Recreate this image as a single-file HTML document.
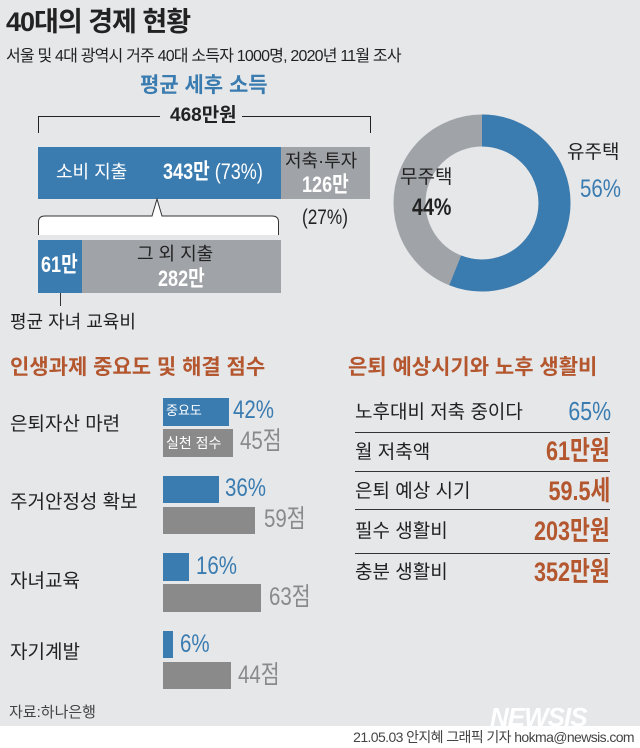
<!DOCTYPE html>
<html><head><meta charset="utf-8"><style>
body{margin:0}
#c{position:relative;width:640px;height:748px;background:#e5e7e9;overflow:hidden;font-family:"Liberation Sans","Noto Sans CJK KR",sans-serif;color:#222}
.a{position:absolute;white-space:nowrap;line-height:1}
.b{position:absolute}
.n{display:inline-block;transform:scaleX(.82);transform-origin:left center}
.o{color:#b4572f;font-weight:bold}
.bl{color:#3a7bb0}
</style></head><body><div id="c">
<div class="a" style="left:6px;top:9px;font-size:27px;font-weight:bold;letter-spacing:-1px">40대의 경제 현황</div>
<div class="a" style="left:6px;top:49px;font-size:16px;letter-spacing:-0.8px">서울 및 4대 광역시 거주 40대 소득자 1000명, 2020년 11월 조사</div>
<div class="a bl" style="left:140px;top:75px;font-size:21px;font-weight:bold">평균 세후 소득</div>

<svg class="b" style="left:0;top:0" width="640" height="360">
<path d="M38.5 133 V116.5 H160 M242 116.5 H370.5 V133" fill="none" stroke="#222" stroke-width="1"/>
<rect x="38" y="147" width="243" height="52" fill="#3a7bb0"/>
<rect x="281" y="147" width="89" height="52" fill="#a0a4a8"/>
<path d="M38.5 235 V222 Q38.5 216 45 216 H152 L157 199 L162 216 H272 Q278.5 216 278.5 222 V235" fill="#fff" stroke="#333" stroke-width="1"/>
<rect x="38" y="240" width="44" height="53" fill="#3a7bb0"/>
<rect x="82" y="240" width="199" height="53" fill="#a0a4a8"/>
<line x1="60.5" y1="293" x2="60.5" y2="306" stroke="#333"/>
<circle cx="482" cy="203" r="72.5" fill="none" stroke="#a0a4a8" stroke-width="32"/>
<circle cx="482" cy="203" r="72.5" fill="none" stroke="#3a7bb0" stroke-width="32" stroke-dasharray="255.1 500" transform="rotate(-90 482 203)"/>
</svg>
<div class="a" style="left:170px;top:106px;font-size:19px;font-weight:bold">468만원</div>
<div class="a" style="left:56px;top:163px;font-size:18px;color:#fff">소비 지출</div>
<div class="a" style="left:163px;top:161px;font-size:22px;color:#fff"><span class="n"><b>343만</b> (73%)</span></div>
<div class="a" style="left:285px;top:152px;font-size:18px">저축·투자</div>
<div class="a" style="left:302px;top:174px;font-size:22px;color:#fff;font-weight:bold"><span class="n">126만</span></div>
<div class="a" style="left:302px;top:207px;font-size:21px"><span class="n">(27%)</span></div>
<div class="a" style="left:41px;top:254px;font-size:22px;color:#fff;font-weight:bold"><span class="n">61만</span></div>
<div class="a" style="left:137px;top:245px;font-size:18px">그 외 지출</div>
<div class="a" style="left:158px;top:268px;font-size:22px;color:#fff;font-weight:bold"><span class="n">282만</span></div>
<div class="a" style="left:10px;top:313px;font-size:18px">평균 자녀 교육비</div>
<div class="a" style="left:567px;top:143px;font-size:19px">유주택</div>
<div class="a bl" style="left:580px;top:177px;font-size:25px"><span class="n">56%</span></div>
<div class="a" style="left:400px;top:168px;font-size:19px">무주택</div>
<div class="a" style="left:412px;top:196px;font-size:24px;font-weight:bold"><span class="n">44%</span></div>

<div class="a o" style="left:10px;top:357px;font-size:21px">인생과제 중요도 및 해결 점수</div>
<div class="a o" style="left:348px;top:357px;font-size:21px">은퇴 예상시기와 노후 생활비</div>

<div class="a" style="left:10px;top:415px;font-size:19px">은퇴자산 마련</div>
<div class="b" style="left:163px;top:398px;width:66px;height:28px;background:#3a7bb0;color:#fff;font-size:13px;line-height:26px;padding-left:3px;box-sizing:border-box">중요도</div>
<div class="b" style="left:163px;top:429px;width:70px;height:28px;background:#8a8a8a;color:#fff;font-size:14px;line-height:28px;padding-left:3px;box-sizing:border-box">실천 점수</div>
<div class="a bl" style="left:233px;top:398px;font-size:25px"><span class="n">42%</span></div>
<div class="a" style="left:240px;top:429px;font-size:25px;color:#8a8a8a"><span class="n">45점</span></div>

<div class="a" style="left:10px;top:493px;font-size:19px">주거안정성 확보</div>
<div class="b" style="left:163px;top:476px;width:56px;height:27px;background:#3a7bb0"></div>
<div class="b" style="left:163px;top:507px;width:92px;height:27px;background:#8a8a8a"></div>
<div class="a bl" style="left:225px;top:476px;font-size:25px"><span class="n">36%</span></div>
<div class="a" style="left:264px;top:507px;font-size:25px;color:#8a8a8a"><span class="n">59점</span></div>

<div class="a" style="left:10px;top:572px;font-size:19px">자녀교육</div>
<div class="b" style="left:163px;top:553px;width:26px;height:28px;background:#3a7bb0"></div>
<div class="b" style="left:163px;top:584px;width:98px;height:28px;background:#8a8a8a"></div>
<div class="a bl" style="left:196px;top:554px;font-size:25px"><span class="n">16%</span></div>
<div class="a" style="left:269px;top:585px;font-size:25px;color:#8a8a8a"><span class="n">63점</span></div>

<div class="a" style="left:10px;top:643px;font-size:19px">자기계발</div>
<div class="b" style="left:163px;top:631px;width:10px;height:27px;background:#3a7bb0"></div>
<div class="b" style="left:163px;top:662px;width:68px;height:27px;background:#8a8a8a"></div>
<div class="a bl" style="left:180px;top:632px;font-size:25px"><span class="n">6%</span></div>
<div class="a" style="left:238px;top:663px;font-size:25px;color:#8a8a8a"><span class="n">44점</span></div>

<div class="b" style="left:355px;top:432px;width:255px;height:1px;background:#333"></div>
<div class="b" style="left:355px;top:471px;width:255px;height:1px;background:#333"></div>
<div class="b" style="left:355px;top:509px;width:255px;height:1px;background:#333"></div>
<div class="b" style="left:355px;top:553px;width:255px;height:1px;background:#333"></div>
<div class="a" style="left:355px;top:403px;font-size:19px">노후대비 저축 중이다</div>
<div class="a" style="left:355px;top:443px;font-size:19px">월 저축액</div>
<div class="a" style="left:355px;top:482px;font-size:19px">은퇴 예상 시기</div>
<div class="a" style="left:355px;top:522px;font-size:19px">필수 생활비</div>
<div class="a" style="left:355px;top:563px;font-size:19px">충분 생활비</div>
<div class="a bl" style="right:29px;top:398px;font-size:26px;transform:scaleX(.82);transform-origin:right center">65%</div>
<div class="a o" style="right:30px;top:438px;font-size:27px;transform:scaleX(.8);transform-origin:right center">61만원</div>
<div class="a o" style="right:30px;top:478px;font-size:27px;transform:scaleX(.8);transform-origin:right center">59.5세</div>
<div class="a o" style="right:30px;top:518px;font-size:27px;transform:scaleX(.8);transform-origin:right center">203만원</div>
<div class="a o" style="right:30px;top:559px;font-size:27px;transform:scaleX(.8);transform-origin:right center">352만원</div>

<div class="a" style="left:9px;top:705px;font-size:15px;color:#444">자료:하나은행</div>
<div class="b" style="left:0;top:726px;width:640px;height:22px;background:#fff"></div>
<div class="a" style="left:490px;top:704px;font-size:26px;font-weight:bold;font-style:italic;color:#fff;letter-spacing:-1px">NEWSIS</div>
<div class="a" style="right:6px;top:730px;font-size:14px;color:#444;letter-spacing:-0.6px">21.05.03 안지혜 그래픽 기자 hokma@newsis.com</div>
</div></body></html>
